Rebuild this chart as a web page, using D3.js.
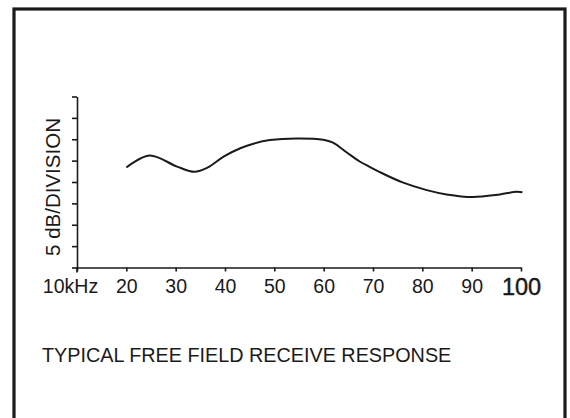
<!DOCTYPE html>
<html lang="en">
<head>
    <meta charset="UTF-8">
    <title>Typical Free Field Receive Response</title>
    <style>
        body {
            margin: 0;
            background: #fff;
        }

        text {
            font-family: "Liberation Sans", Arial, sans-serif;
            fill: #1a1a1a;
        }

        .axis path,
        .axis line {
            stroke: #1a1a1a;
            stroke-width: 1.6px;
        }

        .response {
            fill: none;
            stroke: #1a1a1a;
            stroke-width: 2px;
        }
    </style>
</head>
<body>
    <div id="chart"></div>
    <script src="https://d3js.org/d3.v7.min.js"></script>
    <script>
        // frequency in kHz, level in dB (5 dB per division, 8 divisions)
        const freqKHz = [20, 24.7, 30.3, 33.8, 36.5, 39.8, 43.1, 45.6, 49.1, 54.6, 59.9, 61.9,
            64.7, 67.3, 69.4, 71.4, 76.0, 80.9, 84.9, 90.2, 95.7, 99.1, 100.3];
        const levelDb = [23.4, 26.2, 23.6, 22.4, 23.4, 26.0, 27.9, 28.9, 29.8, 30.2, 29.9, 29.2,
            26.9, 24.8, 23.5, 22.3, 19.9, 18.1, 17.1, 16.5, 17.1, 17.7, 17.6];

        const xTicks = [10, 20, 30, 40, 50, 60, 70, 80, 90, 100];
        const yTicks = [0, 5, 10, 15, 20, 25, 30, 35, 40];

        const yLabel = "5 dB/DIVISION";
        const title = "TYPICAL FREE FIELD RECEIVE RESPONSE";

        const width = 570, height = 418;

        const svg = d3.select("#chart").append("svg")
            .attr("width", width)
            .attr("height", height);

        // outer frame (bottom edge is cut off in the original)
        svg.append("rect")
            .attr("x", 14)
            .attr("y", 9)
            .attr("width", 551)
            .attr("height", 480)
            .attr("fill", "none")
            .attr("stroke", "#1a1a1a")
            .attr("stroke-width", 3.2);

        const x = d3.scaleLinear().domain([10, 100]).range([77, 521]);
        const y = d3.scaleLinear().domain([0, 40]).range([267.5, 96.5]);

        // x axis
        const xAxis = svg.append("g")
            .attr("class", "axis")
            .attr("transform", "translate(0," + y(0) + ")")
            .call(d3.axisBottom(x)
                .tickValues(xTicks)
                .tickSize(4)
                .tickSizeOuter(0)
                .tickFormat(d => d === 10 ? "10kHz" : d));

        xAxis.selectAll(".tick text")
            .attr("y", 0)
            .attr("dy", d => d === 100 ? 27 : 25)
            .attr("font-size", d => d === 100 ? 23.5 : 19.5)
            .attr("dx", d => d === 10 ? -7 : 0)
            .attr("fill", "#111")
            .attr("stroke", d => d === 100 ? "#111" : "none")
            .attr("stroke-width", 0.4);
        xAxis.select(".domain").attr("stroke-width", 1.6);

        // y axis, no labels
        const yAxis = svg.append("g")
            .attr("class", "axis")
            .attr("transform", "translate(" + x(10) + ",0)")
            .call(d3.axisLeft(y)
                .tickValues(yTicks)
                .tickSize(5)
                .tickSizeOuter(0)
                .tickFormat(""));

        // y axis runs a little past the x axis
        yAxis.append("line")
            .attr("x1", 0).attr("x2", 0)
            .attr("y1", y(0)).attr("y2", y(0) + 5)
            .attr("stroke", "#1a1a1a")
            .attr("stroke-width", 1.6);

        svg.append("text")
            .attr("transform", "translate(60," + (y(20) + 5) + ") rotate(-90)")
            .attr("text-anchor", "middle")
            .attr("font-size", 20.5)
            .text(yLabel);

        // response curve
        const line = d3.line()
            .x((d, i) => x(freqKHz[i]))
            .y(d => y(d))
            .curve(d3.curveCatmullRom.alpha(0.5));

        svg.append("path")
            .datum(levelDb)
            .attr("class", "response")
            .attr("d", line);

        svg.append("text")
            .attr("x", 42)
            .attr("y", 362)
            .attr("font-size", 19.8)
            .text(title);
    </script>
</body>
</html>
